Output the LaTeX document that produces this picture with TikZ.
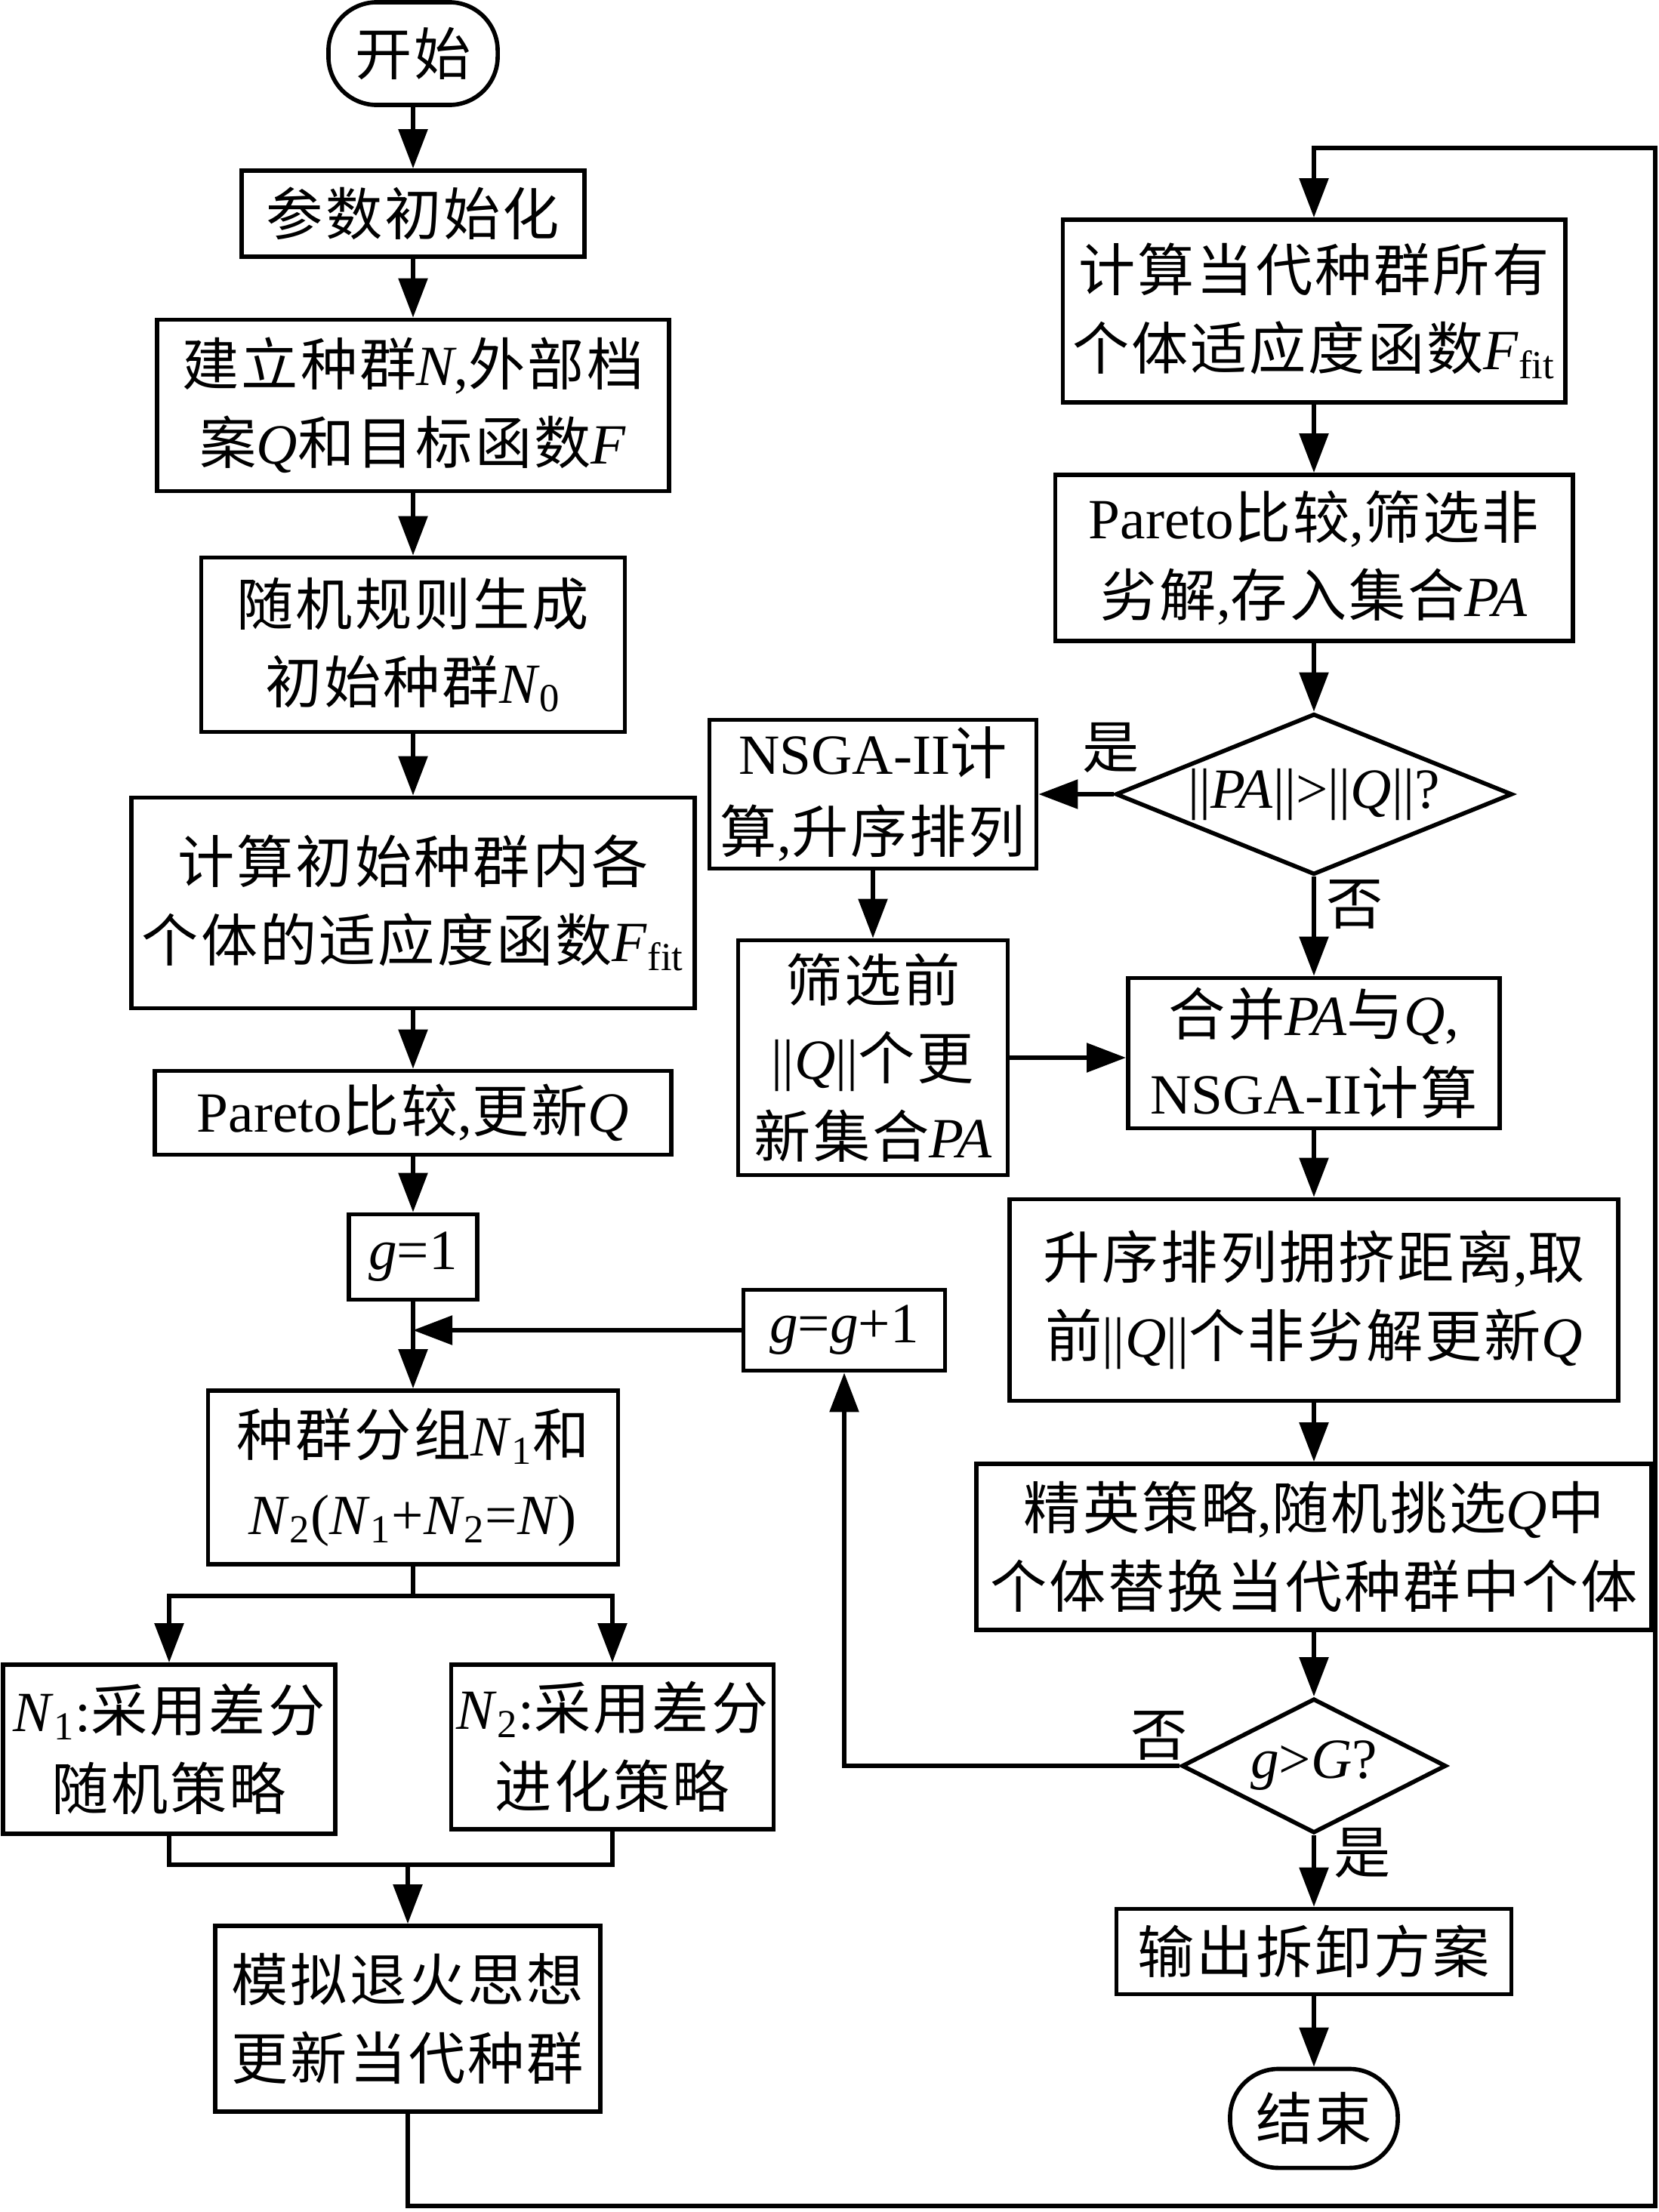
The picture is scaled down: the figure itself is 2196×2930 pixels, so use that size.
\documentclass[tikz,border=0pt]{standalone}
\usepackage{fontspec}
\setmainfont{Liberation Serif}
\newfontfamily\cjkfont[LetterSpace=4]{Noto Sans CJK SC}
\newcommand\zh[1]{{\cjkfont #1}}
\newcommand\vi[1]{\textit{#1}}
\newcommand\fsz{\fontsize{21.4}{29.5}\selectfont}
\usetikzlibrary{shapes.geometric,arrows.meta}
\tikzset{
 box/.style={draw, line width=1.6pt, rectangle, align=center, inner sep=0pt, font=\fsz},
 term/.style={box, rounded corners=0.64cm},
 dec/.style={draw, line width=1.6pt, diamond, inner sep=0pt, align=center, font=\fsz},
 arr/.style={line width=1.6pt, -{Triangle[length=0.52cm,width=0.38cm]}},
 ln/.style={line width=1.6pt},
 lbl/.style={font=\fsz, inner sep=0pt}
}
\begin{document}
\begin{tikzpicture}[x=0.01cm, y=-0.01cm]
\useasboundingbox (0,0) rectangle (2196,2930);
% left column
\node[term, minimum width=2.24cm, minimum height=1.36cm] (start) at (547,71) {\zh{开始}};
\node[box, minimum width=4.54cm, minimum height=1.14cm] (p1) at (547,283) {\zh{参数初始化}};
\node[box, minimum width=6.77cm, minimum height=2.27cm] (p2) at (547,537) {\zh{建立种群}\vi{N},\zh{外部档}\\\zh{案}\vi{Q}\zh{和目标函数}\vi{F}};
\node[box, minimum width=5.61cm, minimum height=2.31cm] (p3) at (547,854) {\zh{随机规则生成}\\\zh{初始种群}\vi{N}\textsubscript{0}};
\node[box, minimum width=7.45cm, minimum height=2.79cm] (p4) at (547,1196) {\zh{计算初始种群内各}\\\zh{个体的适应度函数}\vi{F}\textsubscript{fit}};
\node[box, minimum width=6.84cm, minimum height=1.11cm] (p5) at (547,1474) {Pareto\zh{比较},\zh{更新}\vi{Q}};
\node[box, minimum width=1.70cm, minimum height=1.13cm] (g1) at (547,1665) {\vi{g}=1};
\node[box, minimum width=2.67cm, minimum height=1.07cm] (gg1) at (1118,1762) {\vi{g}=\vi{g}+1};
\node[box, minimum width=5.43cm, minimum height=2.30cm] (grp) at (547,1957) {\zh{种群分组}\vi{N}\textsubscript{1}\zh{和}\\\vi{N}\textsubscript{2}(\vi{N}\textsubscript{1}+\vi{N}\textsubscript{2}=\vi{N})};
\node[box, minimum width=4.40cm, minimum height=2.24cm] (n1) at (224,2317) {\vi{N}\textsubscript{1}:\zh{采用差分}\\\zh{随机策略}};
\node[box, minimum width=4.27cm, minimum height=2.18cm] (n2) at (811,2314) {\vi{N}\textsubscript{2}:\zh{采用差分}\\\zh{进化策略}};
\node[box, minimum width=5.10cm, minimum height=2.46cm] (sa) at (540,2674) {\zh{模拟退火思想}\\\zh{更新当代种群}};
% right column
\node[box, minimum width=6.65cm, minimum height=2.42cm] (c1) at (1740,412) {\zh{计算当代种群所有}\\\zh{个体适应度函数}\vi{F}\textsubscript{fit}};
\node[box, minimum width=6.85cm, minimum height=2.20cm] (c2) at (1740,739) {Pareto\zh{比较},\zh{筛选非}\\\zh{劣解},\zh{存入集合}\vi{PA}};
\node[dec, aspect=2.46, minimum width=5.25cm, minimum height=2.13cm] (d1) at (1740,1052) {||\vi{PA}||>||\vi{Q}||?};
\node[box, minimum width=4.33cm, minimum height=1.97cm] (nsga) at (1156,1052) {NSGA-II\zh{计}\\\zh{算},\zh{升序排列}};
\node[box, minimum width=3.57cm, minimum height=3.11cm] (sx) at (1156,1401) {\zh{筛选前}\\||\vi{Q}||\zh{个更}\\\zh{新集合}\vi{PA}};
\node[box, minimum width=4.92cm, minimum height=1.99cm] (mg) at (1740,1395) {\zh{合并}\vi{PA}\zh{与}\vi{Q},\\NSGA-II\zh{计算}};
\node[box, minimum width=8.06cm, minimum height=2.67cm] (asc) at (1740,1722) {\zh{升序排列拥挤距离},\zh{取}\\\zh{前}||\vi{Q}||\zh{个非劣解更新}\vi{Q}};
\node[box, minimum width=8.93cm, minimum height=2.20cm] (elite) at (1740,2049) {\zh{精英策略},\zh{随机挑选}\vi{Q}\zh{中}\\\zh{个体替换当代种群中个体}};
\node[dec, aspect=1.97, minimum width=3.50cm, minimum height=1.78cm] (d2) at (1740,2339) {\vi{g}>\vi{G}?};
\node[box, minimum width=5.23cm, minimum height=1.13cm] (out) at (1740,2585) {\zh{输出拆卸方案}};
\node[term, minimum width=2.22cm, minimum height=1.31cm] (end) at (1740,2806) {\zh{结束}};
% labels
\node[lbl] (ly1) at (1471,990) {\zh{是}};
\node[lbl] (ln1) at (1794,1198) {\zh{否}};
\node[lbl] (ln2) at (1535,2299) {\zh{否}};
\node[lbl] (ly2) at (1804,2454) {\zh{是}};
% coordinates
\coordinate (sp) at (547,2114);
\coordinate (mj) at (540,2470);
\coordinate (bl) at (540,2922);
\coordinate (br) at (2192,2922);
\coordinate (tr) at (2192,196);
\coordinate (tl) at (1740,196);
\coordinate (lp) at (1118,2339);
% connectors left
\draw[arr] (start.south) -- (p1.north);
\draw[arr] (p1.south) -- (p2.north);
\draw[arr] (p2.south) -- (p3.north);
\draw[arr] (p3.south) -- (p4.north);
\draw[arr] (p4.south) -- (p5.north);
\draw[arr] (p5.south) -- (g1.north);
\draw[arr] (g1.south) -- (grp.north);
\draw[arr] (gg1.west) -- (g1.south |- gg1.west);
\draw[ln] (grp.south) -- (sp);
\draw[arr] (sp) -| (n1.north);
\draw[arr] (sp) -| (n2.north);
\draw[ln] (n1.south) |- (mj);
\draw[ln] (n2.south) |- (mj);
\draw[arr] (mj) -- (sa.north);
\draw[arr] (sa.south) -- (bl) -- (br) -- (tr) -- (tl) -- (c1.north);
% connectors right
\draw[arr] (c1.south) -- (c2.north);
\draw[arr] (c2.south) -- (d1.north);
\draw[arr] (d1.west) -- (nsga.east);
\draw[arr] (nsga.south) -- (sx.north);
\draw[arr] (d1.south) -- (mg.north);
\draw[arr] (sx.east) -- (sx.east -| mg.west);
\draw[arr] (mg.south) -- (asc.north);
\draw[arr] (asc.south) -- (elite.north);
\draw[arr] (elite.south) -- (d2.north);
\draw[arr] (d2.south) -- (out.north);
\draw[arr] (out.south) -- (end.north);
\draw[arr] (d2.west) -- (lp) -- (gg1.south);
\end{tikzpicture}
\end{document}
